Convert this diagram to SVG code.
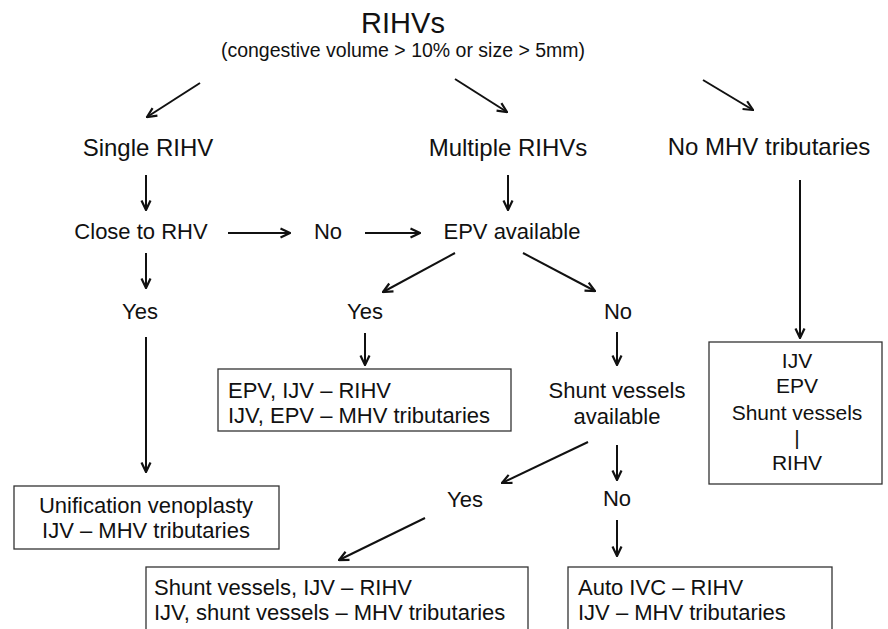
<svg xmlns="http://www.w3.org/2000/svg" width="888" height="629" viewBox="0 0 888 629">
<style>
text{font-family:"Liberation Sans",Arial,sans-serif;fill:#111;}
.t2{font-size:24px;text-anchor:middle;}
.t3{font-size:22px;text-anchor:middle;}
.bx{font-size:22px;}
.bc{font-size:21px;text-anchor:middle;}
.box{fill:none;stroke:#333;stroke-width:1.3;}
.c line{stroke:#111;stroke-width:2;marker-end:url(#ah);}
</style>
<defs>
<marker id="ah" viewBox="0 0 12 12" refX="11" refY="6" markerWidth="12" markerHeight="12" markerUnits="userSpaceOnUse" orient="auto">
<path d="M1.5,1.5 L11,6 L1.5,10.5" fill="none" stroke="#111" stroke-width="2.2"/>
</marker>
</defs>
<rect width="888" height="629" fill="#fff"/>
<g id="root">
<text x="403" y="33" style="font-size:29px;text-anchor:middle">RIHVs</text>
<text x="403" y="57" style="font-size:19.5px;text-anchor:middle">(congestive volume &gt; 10% or size &gt; 5mm)</text>
</g>
<g id="single"><text class="t2" x="148" y="156">Single RIHV</text></g>
<g id="multiple"><text class="t2" x="508" y="156">Multiple RIHVs</text></g>
<g id="nomhv"><text class="t2" x="769" y="155">No MHV tributaries</text></g>
<g id="close"><text class="t3" x="141" y="239">Close to RHV</text></g>
<g id="no1"><text class="t3" x="328" y="239">No</text></g>
<g id="epv"><text class="t3" x="512" y="239">EPV available</text></g>
<g id="yes1"><text class="t3" x="140" y="319">Yes</text></g>
<g id="yes2"><text class="t3" x="365" y="319">Yes</text></g>
<g id="no2"><text class="t3" x="618" y="319">No</text></g>
<g id="box-epv">
<rect class="box" x="218" y="369" width="293" height="62"/>
<text class="bx" x="228" y="398">EPV, IJV – RIHV</text>
<text class="bx" x="228" y="423">IJV, EPV – MHV tributaries</text>
</g>
<g id="shunt">
<text class="t3" x="617" y="398">Shunt vessels</text>
<text class="t3" x="617" y="424">available</text>
</g>
<g id="box-right">
<rect class="box" x="709" y="342" width="173" height="142"/>
<text class="bc" x="797" y="368">IJV</text>
<text class="bc" x="797" y="393">EPV</text>
<text class="bc" x="797" y="420">Shunt vessels</text>
<text class="bc" x="797" y="445">|</text>
<text class="bc" x="797" y="470">RIHV</text>
</g>
<g id="yes3"><text class="t3" x="465" y="507">Yes</text></g>
<g id="no3"><text class="t3" x="617" y="506">No</text></g>
<g id="box-unif">
<rect class="box" x="14" y="486" width="265" height="63"/>
<text class="t3" x="146" y="513">Unification venoplasty</text>
<text class="t3" x="146" y="538">IJV – MHV tributaries</text>
</g>
<g id="box-shunt">
<rect class="box" x="146" y="567" width="382" height="70"/>
<text class="bx" x="154" y="595">Shunt vessels, IJV – RIHV</text>
<text class="bx" x="154" y="620">IJV, shunt vessels – MHV tributaries</text>
</g>
<g id="box-auto">
<rect class="box" x="568" y="567" width="264" height="70"/>
<text class="bx" x="578" y="595">Auto IVC – RIHV</text>
<text class="bx" x="578" y="620">IJV – MHV tributaries</text>
</g>
<g id="connectors" class="c">
<line x1="200" y1="83" x2="147" y2="117"/>
<line x1="455" y1="79" x2="507" y2="112"/>
<line x1="703" y1="80" x2="753" y2="110"/>
<line x1="146" y1="175" x2="146" y2="210"/>
<line x1="508" y1="175" x2="508" y2="210"/>
<line x1="800" y1="180" x2="800" y2="338"/>
<line x1="228" y1="233" x2="290" y2="233"/>
<line x1="365" y1="233" x2="420" y2="233"/>
<line x1="146" y1="253" x2="146" y2="288"/>
<line x1="455" y1="253" x2="383" y2="292"/>
<line x1="523" y1="253" x2="595" y2="291"/>
<line x1="146" y1="337" x2="146" y2="472"/>
<line x1="365" y1="333" x2="365" y2="365"/>
<line x1="617" y1="332" x2="617" y2="365"/>
<line x1="588" y1="442" x2="502" y2="483"/>
<line x1="617" y1="445" x2="617" y2="480"/>
<line x1="425" y1="518" x2="339" y2="560"/>
<line x1="617" y1="520" x2="617" y2="556"/>
</g>
</svg>
